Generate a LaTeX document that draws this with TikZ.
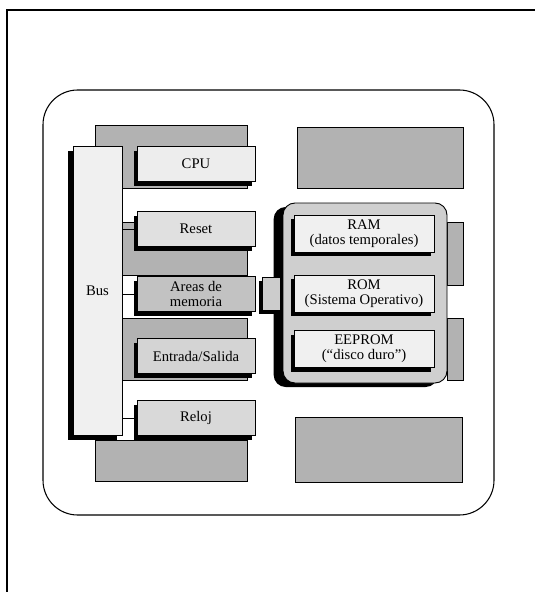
\documentclass[tikz,border=0pt]{standalone}
\usepackage{fontspec}
\setmainfont{Liberation Serif}
\usetikzlibrary{shadows}
\definecolor{hatch}{gray}{0.70}

\begin{document}
\begin{tikzpicture}[
    x=0.75pt, y=-0.75pt,
    frame/.style={draw=black, line width=1.1pt},
    back/.style={draw=black, line width=0.7pt, fill=hatch},
    dark/.style={drop shadow={shadow xshift=#1, shadow yshift=-3pt, fill=black, opacity=1}},
    item/.style={rectangle, draw=black, line width=0.7pt, minimum width=88.5pt,
      minimum height=26.25pt, inner sep=1pt, align=center,
      font=\fontsize{11}{11.5}\selectfont},
    mem/.style={item, minimum width=105pt, minimum height=27.75pt, fill=gray!12, dark=-2.5pt},
    link/.style={draw=black, line width=0.7pt},
  ]
  \useasboundingbox (0,0) rectangle (535,592);

  % edge of the scanned page
  \draw[frame] (7,592) -- (7,10) -- (535,10);
  \draw[draw=black, line width=0.8pt, rounded corners=26pt] (43,90) rectangle (494,515);

  % hatched slots behind the left column
  \foreach \ya/\yb in {125/188, 222/275, 318/380, 440/481}
    \draw[back] (95,\ya) rectangle (247,\yb);

  % empty slots and side tabs on the right
  \draw[back] (297,127) rectangle (463,188);
  \draw[back] (295,417) rectangle (462,482);
  \draw[back] (447,222) rectangle (463,285);
  \draw[back] (447,318) rectangle (463,380);

  \node[item, fill=gray!12, minimum width=36.75pt, minimum height=216.75pt,
        drop shadow={shadow xshift=-3.75pt, shadow yshift=-3.75pt, fill=black, opacity=1}]
        (bus) at (97.5,290.5) {Bus};

  \node[item, fill=gray!14, dark=-2.5pt] (cpu)   at (196,164) {CPU};
  \node[item, fill=gray!24, dark=-2.5pt] (reset) at (196,229) {Reset};
  \node[item, fill=gray!48, dark=-2.5pt] (areas) at (196,294) {Areas de\\memoria};
  \node[item, fill=gray!34, dark=-2.5pt] (io)    at (196,356) {Entrada/Salida};
  \node[item, fill=gray!30, dark=-2.5pt] (clock) at (196,418) {Reloj};

  \foreach \n in {reset,areas,clock}
    \draw[link] (bus.east |- \n.west) -- (\n.west);

  % memory block
  \node[draw=black, line width=0.7pt, fill=gray!38, rounded corners=9pt,
        minimum width=123pt, minimum height=135pt, dark=-7pt] (memblk) at (365,293) {};
  \node[item, fill=gray!40, minimum width=13.5pt, minimum height=24.75pt, dark=-2.5pt]
        (port) at (271,293.5) {};

  \node[mem] (ram)    at (364,233.5) {RAM\\(datos temporales)};
  \node[mem] (rom)    at (364,293.5) {ROM\\(Sistema Operativo)};
  \node[mem] (eeprom) at (364,349)   {EEPROM\\(``disco duro'')};

\end{tikzpicture}
\end{document}
